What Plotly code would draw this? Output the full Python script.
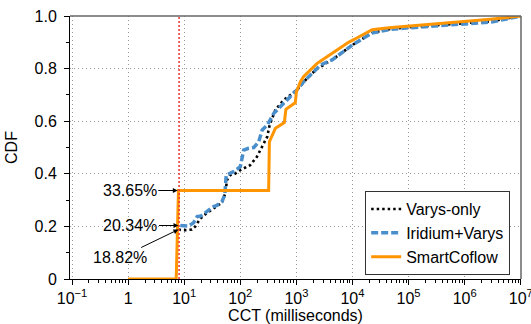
import math
import plotly.graph_objects as go

# ---------------- data ----------------
varys_x = [7.9, 9, 11, 13.7, 15.8, 19.4, 25, 33, 40, 47, 54, 58, 66, 80, 100, 150, 198, 246,
           302, 333, 422, 590, 1020, 1550, 2340, 4330, 10000, 22000, 50000, 100000, 300000,
           1e6, 3e6, 1e7]
varys_y = [0.1882, 0.186, 0.186, 0.188, 0.20, 0.23, 0.25, 0.269, 0.28, 0.29, 0.326, 0.376,
           0.395, 0.40, 0.414, 0.433, 0.465, 0.503, 0.541, 0.585, 0.643, 0.68, 0.719, 0.763,
           0.80, 0.833, 0.89, 0.935, 0.952, 0.957, 0.965, 0.973, 0.98, 1.0]

iridium_x = [8.5, 10, 12, 14.7, 17, 20, 25.4, 33, 38, 47, 53, 56, 76, 100, 115, 140, 174, 213,
             246, 302, 396, 778, 1020, 1350, 1780, 2700, 4330, 10000, 22000, 50000, 100000,
             300000, 1e6, 3e6, 1e7]
iridium_y = [0.2034, 0.2015, 0.2015, 0.214, 0.237, 0.24, 0.256, 0.275, 0.28, 0.294, 0.32,
             0.395, 0.408, 0.427, 0.49, 0.497, 0.50, 0.522, 0.567, 0.585, 0.63, 0.693, 0.719,
             0.75, 0.776, 0.814, 0.833, 0.89, 0.935, 0.95, 0.955, 0.963, 0.972, 0.977, 1.0]

smart_x = [1, 7.2, 7.9, 320, 330, 378, 422, 610, 650, 810, 955, 1000, 1180, 1350, 1650, 2340,
           2880, 3236, 4900, 8510, 12880, 17000, 22400, 44700, 89000, 270000, 1.1e6, 2.9e6, 1e7]
smart_y = [0, 0, 0.3365, 0.3365, 0.522, 0.55, 0.573, 0.595, 0.645, 0.66, 0.67, 0.712, 0.75,
           0.77, 0.788, 0.82, 0.833, 0.84, 0.865, 0.9, 0.92, 0.935, 0.948, 0.955, 0.96, 0.97,
           0.98, 0.988, 1.0]

series_names = ["Varys-only", "Iridium+Varys", "SmartCoflow"]

threshold_ms = 8.1

annot_texts = ["33.65%", "20.34%", "18.82%"]
annot_x = [7.7, 7.9, 7.9]
annot_y = [0.3365, 0.2034, 0.1882]

x_tickvals = [1e-1, 1, 1e1, 1e2, 1e3, 1e4, 1e5, 1e6, 1e7]
x_ticktext = ["10<sup>−1</sup>", "1", "10<sup>1</sup>", "10<sup>2</sup>", "10<sup>3</sup>",
              "10<sup>4</sup>", "10<sup>5</sup>", "10<sup>6</sup>", "10<sup>7</sup>"]
y_tickvals = [0, 0.2, 0.4, 0.6, 0.8, 1.0]
y_ticktext = ["0", "0.2", "0.4", "0.6", "0.8", "1.0"]

# ---------------- figure ----------------
FONT = "Liberation Sans, Arial, Helvetica, sans-serif"
FS = 16
fig = go.Figure()

fig.add_trace(go.Scatter(x=varys_x, y=varys_y, mode="lines", name=series_names[0],
                         line=dict(color="black", width=2.6, dash="2.5px,3px")))
fig.add_trace(go.Scatter(x=iridium_x, y=iridium_y, mode="lines", name=series_names[1],
                         line=dict(color="#4A8FCB", width=3.5, dash="7px,3px")))
fig.add_trace(go.Scatter(x=smart_x, y=smart_y, mode="lines", name=series_names[2],
                         line=dict(color="#FF9500", width=3)))

fig.add_vline(x=threshold_ms, line=dict(color="#EE3333", width=1.5, dash="2px,2px"))

offsets = [(-48, 0), (-48, 0), (-58, 28)]
for t, xv, yv, (ax, ay) in zip(annot_texts, annot_x, annot_y, offsets):
    fig.add_annotation(x=math.log10(xv), y=yv, xref="x", yref="y", text=t, showarrow=True,
                       ax=ax, ay=ay, axref="pixel", ayref="pixel",
                       arrowhead=2, arrowsize=1, arrowwidth=1, arrowcolor="black",
                       font=dict(family=FONT, size=FS, color="black"))

minor_x = [k * 10 ** n for n in range(-1, 7) for k in range(2, 10)]

fig.update_xaxes(type="log", range=[-1.036, 7.004],
                 tickmode="array", tickvals=x_tickvals, ticktext=x_ticktext,
                 ticks="outside", ticklen=5, tickwidth=1, tickcolor="black",
                 ticklabeloverflow="allow",
                 showline=True, linecolor="black", linewidth=1,
                 showgrid=True, gridcolor="#999999", gridwidth=1, griddash="1px,3px",
                 minor=dict(tickmode="array", tickvals=minor_x, ticks="outside",
                            ticklen=3, tickwidth=1, tickcolor="black", showgrid=False),
                 tickfont=dict(family=FONT, size=FS, color="black"),
                 title=dict(text="CCT (milliseconds)", font=dict(family=FONT, size=FS, color="black"),
                            standoff=0),
                 zeroline=False, automargin=False)
fig.update_yaxes(range=[0, 1],
                 tickmode="array", tickvals=y_tickvals, ticktext=y_ticktext,
                 ticks="outside", ticklen=5, tickwidth=1, tickcolor="black",
                 showline=True, linecolor="black", linewidth=1,
                 showgrid=True, gridcolor="#999999", gridwidth=1, griddash="1px,3px",
                 minor=dict(tickmode="array", tickvals=[0.1, 0.3, 0.5, 0.7, 0.9],
                            ticks="outside", ticklen=3, tickwidth=1, tickcolor="black",
                            showgrid=False),
                 tickfont=dict(family=FONT, size=FS, color="black"),
                 ticklabelstandoff=4,
                 title=dict(text="CDF", font=dict(family=FONT, size=FS, color="black"),
                            standoff=12),
                 zeroline=False, automargin=False)

# top & right frame lines
fig.add_shape(type="line", xref="paper", yref="paper", x0=0, x1=1, y0=1, y1=1,
              line=dict(color="#666666", width=1.5))
fig.add_shape(type="line", xref="paper", yref="paper", x0=1, x1=1, y0=0, y1=1,
              line=dict(color="#666666", width=1.5))

fig.update_layout(
    width=531, height=324,
    margin=dict(l=70, r=10, t=16, b=45, autoexpand=False),
    plot_bgcolor="white", paper_bgcolor="white",
    font=dict(family=FONT, size=FS, color="black"),
    showlegend=True,
    legend=dict(x=0.976, y=0.334, xanchor="right", yanchor="top",
                bgcolor="white", bordercolor="#333333", borderwidth=1,
                font=dict(family=FONT, size=FS, color="black"),
                tracegroupgap=0, itemwidth=30),
)

fig.write_html("out.html", config={"displayModeBar": False},
               post_script="document.body.style.margin='0';document.body.style.overflow='hidden';")
